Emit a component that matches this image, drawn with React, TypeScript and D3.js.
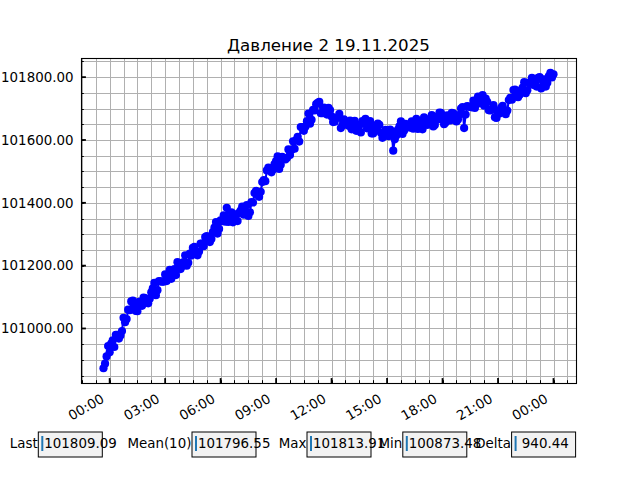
import React from "react";
import * as d3 from "d3";

// ---- data ----
const chartTitle = "Давление 2 19.11.2025";
// readings every 5 minutes, starting 18.11.2025 23:40
const startUtc = Date.UTC(2025, 10, 18, 23, 40);
const stepMinutes = 5;
const pressure = [
  100873.48, 100888, 100911, 100944, 100924, 100952, 100962, 100941, 100980, 100980,
  100968, 100978, 100992, 101034, 101020, 101030, 101060, 101058, 101086, 101089,
  101070, 101056, 101055, 101085, 101083, 101072, 101098, 101097, 101083, 101080,
  101095, 101115, 101128, 101145, 101106, 101122, 101151, 101150, 101149, 101149,
  101172, 101151, 101164, 101187, 101158, 101182, 101189, 101170, 101211, 101206,
  101189, 101198, 101211, 101233, 101200, 101209, 101238, 101232, 101257, 101260,
  101241, 101233, 101245, 101270, 101270, 101262, 101291, 101294, 101283, 101275,
  101285, 101307, 101321, 101339, 101302, 101317, 101344, 101342, 101360, 101340,
  101384, 101339, 101350, 101370, 101338, 101359, 101363, 101342, 101368, 101375,
  101388, 101362, 101372, 101393, 101358, 101370, 101402, 101401, 101431, 101438,
  101424, 101419, 101435, 101466, 101472, 101469, 101503, 101512, 101507, 101497,
  101506, 101523, 101533, 101548, 101508, 101521, 101546, 101542, 101538, 101543,
  101570, 101552, 101568, 101596, 101572, 101600, 101610, 101595, 101641, 101641,
  101629, 101642, 101660, 101684, 101652, 101664, 101696, 101694, 101714, 101718,
  101721, 101685, 101685, 101703, 101696, 101681, 101702, 101695, 101675, 101657,
  101658, 101669, 101672, 101683, 101638, 101646, 101666, 101658, 101651, 101645,
  101662, 101634, 101641, 101661, 101629, 101647, 101648, 101624, 101660, 101653,
  101667, 101637, 101644, 101660, 101621, 101621, 101642, 101632, 101652, 101648,
  101623, 101607, 101612, 101632, 101627, 101612, 101633, 101627, 101566, 101602,
  101614, 101632, 101643, 101659, 101619, 101629, 101651, 101646, 101642, 101639,
  101659, 101636, 101647, 101667, 101635, 101655, 101657, 101634, 101672, 101666,
  101648, 101652, 101660, 101679, 101643, 101648, 101674, 101665, 101687, 101686,
  101664, 101650, 101656, 101678, 101674, 101662, 101686, 101685, 101671, 101659,
  101665, 101680, 101700, 101705, 101638, 101681, 101708, 101706, 101705, 101704,
  101725, 101702, 101714, 101738, 101717, 101736, 101743, 101709, 101732, 101721,
  101695, 101694, 101698, 101711, 101672, 101670, 101693, 101684, 101702, 101709,
  101690, 101682, 101694, 101727, 101734, 101728, 101759, 101760, 101747, 101736,
  101744, 101759, 101767, 101784, 101749, 101758, 101783, 101780, 101798, 101775,
  101781, 101770, 101798, 101800, 101764, 101789, 101793, 101770, 101782, 101803,
  101813.91, 101799, 101809.09,
];
const yMajorTicks = [101000, 101200, 101400, 101600, 101800];
const statLabels = ["Last", "Mean(10)", "Max", "Min", "Delta"];
const statValues = ["101809.09", "101796.55", "101813.91", "100873.48", " 940.44"];

// ---- layout ----
const W = 640, H = 480;
const M = { left: 81, right: 576, top: 58, bottom: 383 };
const boxLefts = [38.3, 192, 307, 402.8, 511.6];
const boxW = 64, boxTop = 432, boxH = 25;
const FONT = "DejaVu Sans, sans-serif";

const snap = (v: number) => Math.round(v) + 0.5;

export default function App() {
  const data = pressure.map((v, i) => ({ t: new Date(startUtc + i * stepMinutes * 60000), v }));
  const [t0, t1] = d3.extent(data, (d) => +d.t) as [number, number];
  const [v0, v1] = d3.extent(data, (d) => d.v) as [number, number];
  const tm = (t1 - t0) * 0.05, vm = (v1 - v0) * 0.05;
  const x = d3.scaleUtc().domain([new Date(t0 - tm), new Date(t1 + tm)]).range([M.left, M.right]);
  const y = d3.scaleLinear().domain([v0 - vm, v1 + vm]).range([M.bottom, M.top]);

  const xMajor = x.ticks(d3.utcHour.every(3)!);
  const [dA, dB] = x.domain();
  const base = Date.UTC(2025, 10, 19, 0, 0);
  const minorStep = 45 * 60000;
  const xMinorTicks: Date[] = [];
  for (let k = Math.ceil((+dA - base) / minorStep); base + k * minorStep <= +dB; k++) {
    xMinorTicks.push(new Date(base + k * minorStep));
  }
  const [yd0, yd1] = y.domain();
  const yMinorTicks = d3.range(Math.ceil(yd0 / 50) * 50, yd1, 50);
  const fmt = d3.utcFormat("%H:%M");

  const line = d3.line<{ t: Date; v: number }>().x((d) => x(d.t)).y((d) => y(d.v));
  const grid = "#b0b0b0";
  const blue = "#0000ff";

  return (
    <svg width={W} height={H} style={{ position: "absolute", left: 0, top: 0, background: "#fff" }} fontFamily={FONT}>
      <rect x={0} y={0} width={W} height={H} fill="#fff" />
      <text x={(M.left + M.right) / 2} y={51} textAnchor="middle" fontSize={16.7} fill="#000">
        {chartTitle}
      </text>
      {/* grid */}
      <g stroke={grid} strokeWidth={1}>
        {xMinorTicks.map((d, i) => (
          <line key={"gx" + i} x1={snap(x(d))} x2={snap(x(d))} y1={M.top} y2={M.bottom} />
        ))}
        {yMinorTicks.map((v, i) => (
          <line key={"gy" + i} x1={M.left} x2={M.right} y1={snap(y(v))} y2={snap(y(v))} />
        ))}
      </g>
      {/* data */}
      <path d={line(data) || ""} fill="none" stroke={blue} strokeWidth={2.1} strokeLinejoin="round" />
      <g fill={blue}>
        {data.map((d, i) => (
          <circle key={i} cx={x(d.t)} cy={y(d.v)} r={4.1} />
        ))}
      </g>
      {/* spines */}
      <rect x={M.left + 0.5} y={M.top + 0.5} width={M.right - M.left} height={M.bottom - M.top} fill="none" stroke="#000" strokeWidth={1.1} />
      {/* ticks */}
      <g stroke="#000">
        {yMinorTicks.map((v, i) => (
          <line key={"ym" + i} x1={M.left} x2={M.left + 2.8} y1={snap(y(v))} y2={snap(y(v))} strokeWidth={1} />
        ))}
        {yMajorTicks.map((v, i) => (
          <line key={"yM" + i} x1={M.left} x2={M.left + 4.9} y1={y(v)} y2={y(v)} strokeWidth={1.8} />
        ))}
        {xMinorTicks.map((d, i) => (
          <line key={"xm" + i} x1={snap(x(d))} x2={snap(x(d))} y1={M.bottom} y2={M.bottom - 2.8} strokeWidth={1} />
        ))}
        {xMajor.map((d, i) => (
          <line key={"xM" + i} x1={x(d)} x2={x(d)} y1={M.bottom} y2={M.bottom - 4.9} strokeWidth={1.8} />
        ))}
      </g>
      <g fontSize={13.4} fill="#000">
        {yMajorTicks.map((v, i) => (
          <text key={"yl" + i} x={73.5} y={y(v)} dy="0.36em" textAnchor="end">
            {v.toFixed(2)}
          </text>
        ))}
        {xMajor.map((d, i) => (
          <text key={"xl" + i} transform={`translate(${x(d) - 4.5},${401.5}) rotate(-30)`} textAnchor="end">
            {fmt(d)}
          </text>
        ))}
      </g>
      {/* stat boxes */}
      <g fontSize={13.4}>
        {statLabels.map((lab, i) => (
          <g key={"s" + i}>
            <rect x={boxLefts[i]} y={boxTop} width={boxW} height={boxH} fill="#f2f2f2" stroke="#000" strokeWidth={1} />
            <line x1={boxLefts[i] + 4} x2={boxLefts[i] + 4} y1={boxTop + 4} y2={boxTop + 19} stroke="#1f77b4" strokeWidth={2} />
            <text x={boxLefts[i] - 0.6} y={boxTop + 16} textAnchor="end" fill="#000">
              {lab}
            </text>
            <text x={boxLefts[i] + 6} y={boxTop + 16} fill="#000" style={{ whiteSpace: "pre" }}>
              {statValues[i]}
            </text>
          </g>
        ))}
      </g>
    </svg>
  );
}
